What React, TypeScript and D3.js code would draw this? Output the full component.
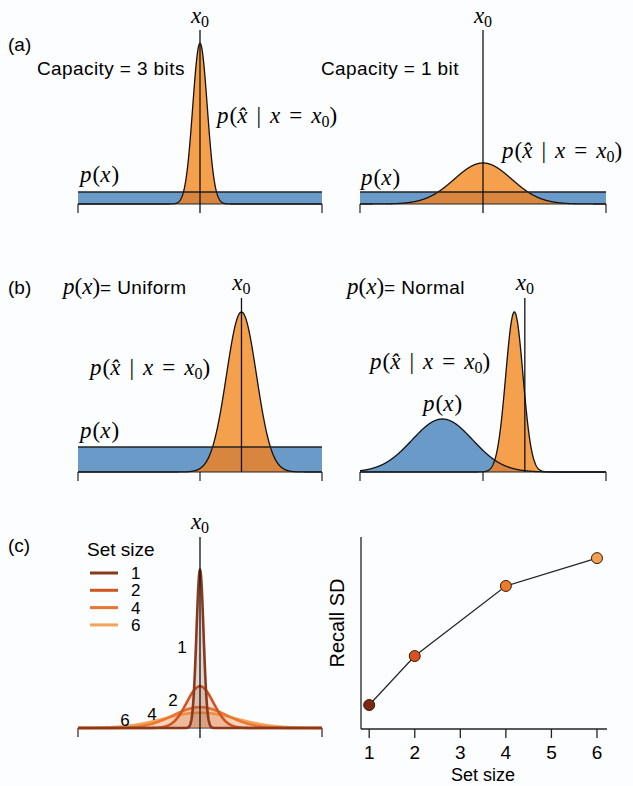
import React from 'react';
import * as d3 from 'd3';

const W = 633;
const H = 786;

// ---- data (x domain is [-1, 1] for every density panel) ----

// (a) capacity panels: uniform prior, posterior centred at x0 = 0
const capacityLabels = ['Capacity = 3 bits', 'Capacity = 1 bit'];
const capacitySD = [0.0595, 0.233];
const capacityPeak = [6.7, 1.71];
const uniformDensity = 0.5;

// (b) prior shape panels
const priorLabels = ['Uniform', 'Normal'];
const bX0 = 0.34;
const bUniformPost = { mu: 0.34, sd: 0.123, peak: 3.2 };
const bNormalPrior = { mu: -0.33, sd: 0.246, peak: 1.06 };
const bNormalPost = { mu: 0.255, sd: 0.07, peak: 3.2 };

// (c) set size
const setSizes = [1, 2, 4, 6];
const setSizeSD = [0.029, 0.11, 0.22, 0.3];
const recallSD = [0.125, 0.38, 0.745, 0.89];
const setColors = ['#8a3a1c', '#cf5522', '#e9772e', '#f5a35a'];
const pointColors = ['#7b2a12', '#d6521f', '#ec7b2c', '#f4a052'];
const curveLabelPos = [
  { x: 182, y: 647 },
  { x: 173, y: 700 },
  { x: 152, y: 714 },
  { x: 125, y: 720 },
];

const BLUE = '#6a9bc8';
const ORANGE = '#f5a04c';
const DARK_ORANGE = '#d8853f';
const SANS = '"Liberation Sans", Arial, Helvetica, sans-serif';
const SERIF = '"Liberation Serif", "Times New Roman", serif';

const xs = d3.range(-1, 1.0001, 0.002);
const gauss = (c: { mu: number; sd: number; peak: number }) => (x: number) =>
  c.peak * Math.exp(-0.5 * ((x - c.mu) / c.sd) ** 2);

const xLeft = d3.scaleLinear().domain([-1, 1]).range([78, 322]);
const xRight = d3.scaleLinear().domain([-1, 1]).range([360, 606]);

function areaPath(xScale: any, yScale: any, f: (x: number) => number) {
  return d3
    .area<number>()
    .x((d) => xScale(d))
    .y0(yScale(0))
    .y1((d) => yScale(f(d)))(xs) as string;
}
function linePath(xScale: any, yScale: any, f: (x: number) => number) {
  return d3
    .line<number>()
    .x((d) => xScale(d))
    .y((d) => yScale(f(d)))(xs) as string;
}

const X0 = ({ x, y }: { x: number; y: number }) => (
  <text x={x} y={y} textAnchor="middle" fontFamily={SERIF} fontSize={23}>
    <tspan fontStyle="italic">x</tspan>
    <tspan fontSize={16} dy={4}>0</tspan>
  </text>
);

const Px = ({ x, y }: { x: number; y: number }) => (
  <text x={x} y={y} fontFamily={SERIF} fontSize={23}>
    <tspan fontStyle="italic">p</tspan>
    <tspan dx={1}>(</tspan>
    <tspan fontStyle="italic">x</tspan>
    <tspan dx={1}>)</tspan>
  </text>
);

const Post = ({ x, y }: { x: number; y: number }) => (
  <text x={x} y={y} fontFamily={SERIF} fontSize={23}>
    <tspan fontStyle="italic">p</tspan>
    <tspan dx={1}>(</tspan>
    <tspan fontStyle="italic">{'x\u0302'}</tspan>
    <tspan dx={9}>|</tspan>
    <tspan dx={9} fontStyle="italic">x</tspan>
    <tspan dx={9}>=</tspan>
    <tspan dx={9} fontStyle="italic">x</tspan>
    <tspan fontSize={16} dy={4}>0</tspan>
    <tspan dy={-4}>)</tspan>
  </text>
);

const Axis = ({ xScale, y, ticks }: { xScale: any; y: number; ticks: number[] }) => (
  <g stroke="#222" strokeWidth={1.2}>
    <line x1={xScale(-1)} x2={xScale(1)} y1={y} y2={y} />
    {ticks.map((t) => (
      <line key={t} x1={xScale(t)} x2={xScale(t)} y1={y} y2={y + 9} />
    ))}
  </g>
);

// one uniform-prior panel: blue band, orange posterior, darker overlap
function UniformPanel({ id, xScale, yScale, post, x0, ticks, x0Top, x0Bottom }: any) {
  const f = gauss(post);
  const bandY = yScale(uniformDensity);
  const base = yScale(0);
  return (
    <g>
      <defs>
        <clipPath id={id}>
          <rect x={xScale(-1)} y={bandY} width={xScale(1) - xScale(-1)} height={base - bandY} />
        </clipPath>
      </defs>
      <rect x={xScale(-1)} y={bandY} width={xScale(1) - xScale(-1)} height={base - bandY} fill={BLUE} />
      <path d={areaPath(xScale, yScale, f)} fill={ORANGE} />
      <path d={areaPath(xScale, yScale, f)} fill={DARK_ORANGE} clipPath={`url(#${id})`} />
      <path d={linePath(xScale, yScale, f)} fill="none" stroke="#111" strokeWidth={1.3} />
      <line x1={xScale(-1)} x2={xScale(1)} y1={bandY} y2={bandY} stroke="#222" strokeWidth={1.3} />
      <Axis xScale={xScale} y={base} ticks={ticks} />
      <line x1={xScale(x0)} x2={xScale(x0)} y1={x0Top} y2={x0Bottom} stroke="#111" strokeWidth={1.3} />
    </g>
  );
}

export default function App() {
  // (a)
  const yA = d3.scaleLinear().domain([0, 7]).range([204, 204 - 7 * 24]);
  // (b)
  const yB = d3.scaleLinear().domain([0, 3.4]).range([472, 472 - 3.4 * 50]);
  // (c)
  const yC = d3.scaleLinear().domain([0, 14]).range([728, 728 - 14 * 11.5]);
  const xSet = d3.scaleLinear().domain([0.82, 6.22]).range([361, 607]);
  const ySD = d3.scaleLinear().domain([0, 1]).range([729, 537]);

  const setCurves = setSizes.map((s, i) => ({
    mu: 0,
    sd: setSizeSD[i],
    peak: 1 / (setSizeSD[i] * Math.sqrt(2 * Math.PI)),
  }));

  const sdLine = d3
    .line<number>()
    .x((d, i) => xSet(setSizes[i]))
    .y((d) => ySD(d))(recallSD) as string;

  const fPrior = gauss(bNormalPrior);
  const fPost = gauss(bNormalPost);

  return (
    <svg width={W} height={H} style={{ position: 'absolute', left: 0, top: 0 }}>
      <rect width={W} height={H} fill="#fcfdfe" />

      {/* ---------- (a) ---------- */}
      <text x={8} y={51} fontFamily={SANS} fontSize={19}>(a)</text>
      <UniformPanel id="ca1" xScale={xLeft} yScale={yA}
        post={{ mu: 0, sd: capacitySD[0], peak: capacityPeak[0] }}
        x0={0} ticks={[-1, 1]} x0Top={30} x0Bottom={213} />
      <UniformPanel id="ca2" xScale={xRight} yScale={yA}
        post={{ mu: 0, sd: capacitySD[1], peak: capacityPeak[1] }}
        x0={0} ticks={[-1, 1]} x0Top={30} x0Bottom={213} />
      <X0 x={xLeft(0)} y={23} />
      <X0 x={xRight(0)} y={23} />
      <text x={37} y={75} fontFamily={SANS} fontSize={19} letterSpacing={0.4}>{capacityLabels[0]}</text>
      <text x={321} y={75} fontFamily={SANS} fontSize={19} letterSpacing={0.4}>{capacityLabels[1]}</text>
      <Post x={217} y={123} />
      <Post x={502} y={158} />
      <Px x={80} y={182} />
      <Px x={361} y={185} />

      {/* ---------- (b) ---------- */}
      <text x={8} y={294} fontFamily={SANS} fontSize={19}>(b)</text>
      <UniformPanel id="cb1" xScale={xLeft} yScale={yB} post={bUniformPost}
        x0={bX0} ticks={[-1, 0, 1]} x0Top={298} x0Bottom={472} />
      <g>
        <defs>
          <clipPath id="cb2">
            <path d={areaPath(xRight, yB, fPrior)} />
          </clipPath>
        </defs>
        <path d={areaPath(xRight, yB, fPrior)} fill={BLUE} />
        <path d={areaPath(xRight, yB, fPost)} fill={ORANGE} />
        <path d={areaPath(xRight, yB, fPost)} fill={DARK_ORANGE} clipPath="url(#cb2)" />
        <path d={linePath(xRight, yB, fPrior)} fill="none" stroke="#111" strokeWidth={1.3} />
        <path d={linePath(xRight, yB, fPost)} fill="none" stroke="#111" strokeWidth={1.3} />
        <Axis xScale={xRight} y={472} ticks={[-1, 0, 1]} />
        <line x1={xRight(bX0)} x2={xRight(bX0)} y1={298} y2={472} stroke="#111" strokeWidth={1.3} />
      </g>
      <X0 x={xLeft(bX0)} y={290} />
      <X0 x={xRight(bX0)} y={290} />
      <text x={63} y={294} fontFamily={SERIF} fontSize={23}>
        <tspan fontStyle="italic">p</tspan>(<tspan fontStyle="italic">x</tspan>)
        <tspan fontFamily={SANS} fontSize={19} letterSpacing={0.4}>= {priorLabels[0]}</tspan>
      </text>
      <text x={347} y={294} fontFamily={SERIF} fontSize={23}>
        <tspan fontStyle="italic">p</tspan>(<tspan fontStyle="italic">x</tspan>)
        <tspan fontFamily={SANS} fontSize={19} letterSpacing={0.4}>= {priorLabels[1]}</tspan>
      </text>
      <Post x={90} y={375} />
      <Post x={370} y={369} />
      <Px x={80} y={438} />
      <Px x={423} y={411} />

      {/* ---------- (c) left ---------- */}
      <text x={8} y={552} fontFamily={SANS} fontSize={19}>(c)</text>
      <Axis xScale={xLeft} y={728} ticks={[-1, 1]} />
      {setCurves
        .map((c, i) => ({ c, i }))
        .reverse()
        .map(({ c, i }) => (
          <g key={i}>
            <path d={areaPath(xLeft, yC, gauss(c))} fill={setColors[i]} fillOpacity={0.2} />
            <path d={linePath(xLeft, yC, gauss(c))} fill="none" stroke={setColors[i]} strokeWidth={2.6} />
          </g>
        ))}
      <line x1={xLeft(0)} x2={xLeft(0)} y1={537} y2={738} stroke="#111" strokeWidth={1.3} />
      <X0 x={xLeft(0)} y={529} />
      <text x={87} y={556} fontFamily={SANS} fontSize={19}>Set size</text>
      {setSizes.map((s, i) => (
        <g key={s}>
          <line x1={90} x2={118} y1={573 + i * 17.3} y2={573 + i * 17.3} stroke={setColors[i]} strokeWidth={3} />
          <text x={131} y={573 + i * 17.3} dy="0.36em" fontFamily={SANS} fontSize={17}>{s}</text>
          <text x={curveLabelPos[i].x} y={curveLabelPos[i].y} dy="0.36em" textAnchor="middle"
            fontFamily={SANS} fontSize={17}>{s}</text>
        </g>
      ))}

      {/* ---------- (c) right ---------- */}
      <g stroke="#222" strokeWidth={1.3}>
        <line x1={361} x2={361} y1={ySD(1)} y2={ySD(0)} />
        <line x1={361} x2={607} y1={ySD(0)} y2={ySD(0)} />
        {xSet.ticks(6).map((t) => (
          <line key={t} x1={xSet(t)} x2={xSet(t)} y1={ySD(0)} y2={ySD(0) + 9} />
        ))}
      </g>
      {xSet.ticks(6).map((t) => (
        <text key={t} x={xSet(t)} y={759} textAnchor="middle" fontFamily={SANS} fontSize={19}>{t}</text>
      ))}
      <text x={483} y={781} textAnchor="middle" fontFamily={SANS} fontSize={18}>Set size</text>
      <text transform={`translate(${337},${623}) rotate(-90)`} textAnchor="middle" dy="0.36em"
        fontFamily={SANS} fontSize={20}>Recall SD</text>
      <path d={sdLine} fill="none" stroke="#222" strokeWidth={1.2} />
      {recallSD.map((v, i) => (
        <circle key={i} cx={xSet(setSizes[i])} cy={ySD(v)} r={5.5} fill={pointColors[i]} stroke="#3a1a0a" strokeWidth={1} />
      ))}
    </svg>
  );
}
